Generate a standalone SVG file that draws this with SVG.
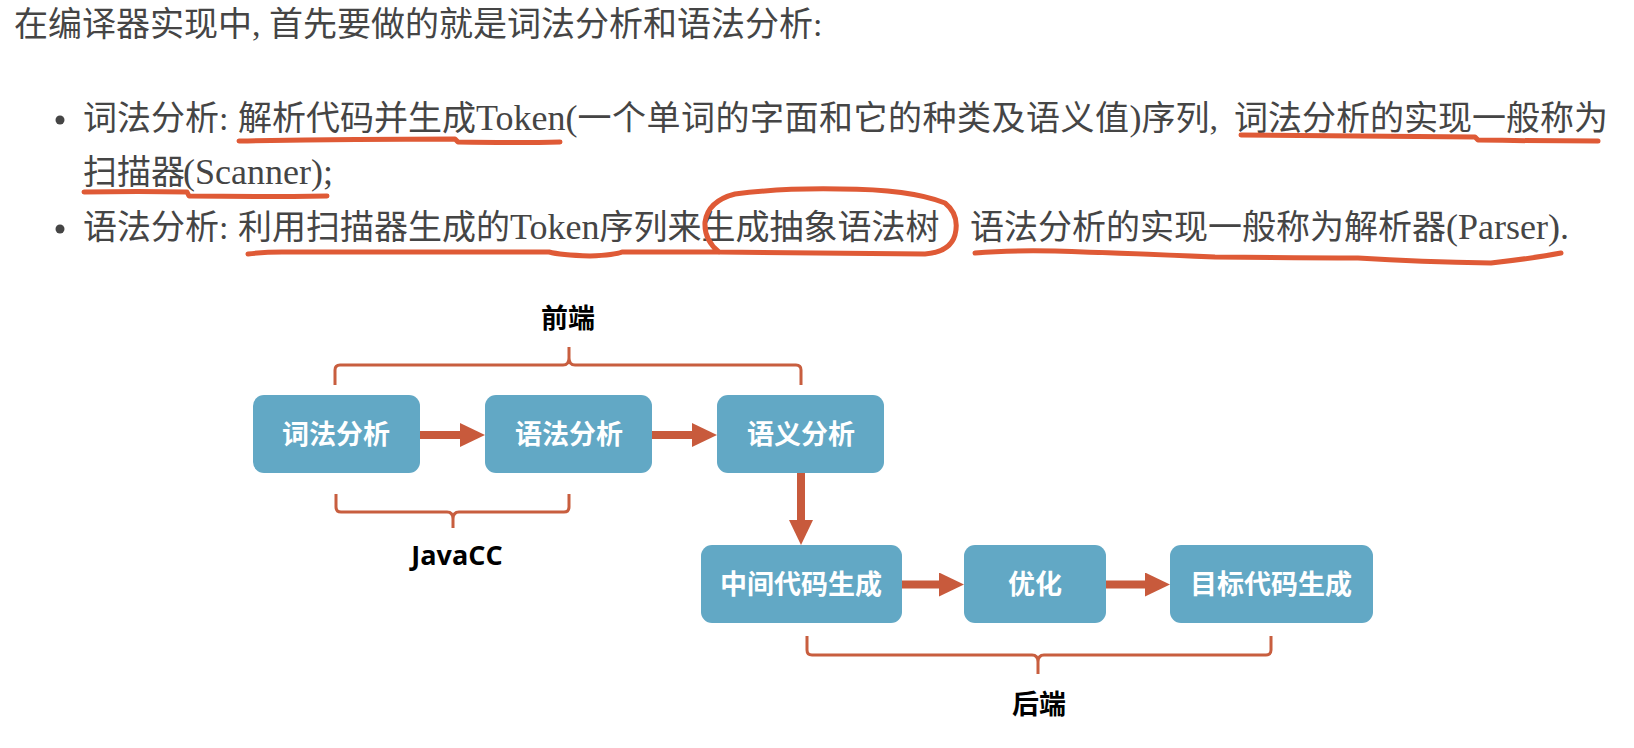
<svg xmlns="http://www.w3.org/2000/svg" width="1634" height="748" viewBox="0 0 1634 748">
<defs>
<style>
.t{font-family:"Liberation Serif","Noto Sans CJK SC",serif;font-size:34px;fill:#454545}
.l{font-size:36px}
.box{fill:#62a8c5}
.bt{font-family:"Noto Sans CJK SC",sans-serif;font-size:27px;font-weight:700;fill:#fff;text-anchor:middle}
.lbl{font-family:"Noto Sans CJK SC",sans-serif;font-size:27px;font-weight:700;fill:#000;text-anchor:middle}
.lbl2{font-family:"Open Sans",sans-serif;font-size:27px;font-weight:700;fill:#000;text-anchor:middle}
.br{fill:none;stroke:#c85e3f;stroke-width:3}
.ar{stroke:#c85a3c;stroke-width:8;fill:none}
.ul{fill:none;stroke:#df5a36;stroke-width:5;stroke-linecap:round;stroke-linejoin:round}
</style>
<marker id="ah" markerUnits="userSpaceOnUse" markerWidth="26" markerHeight="26" refX="0" refY="12" orient="auto">
<path d="M0,0 L25,12 L0,24 Z" fill="#c85a3c"/>
</marker>
</defs>
<rect width="1634" height="748" fill="#fff"/>
<g id="text">
<text class="t" x="14" y="36">在编译器实现中, 首先要做的就是词法分析和语法分析:</text>
<circle cx="60" cy="120" r="4.5" fill="#454545"/>
<text class="t" y="130"><tspan x="83">词法分析: </tspan><tspan x="238">解析代码并生成</tspan><tspan class="l">Token(</tspan><tspan letter-spacing="0.5">一个单词的字面和它的种类及语义值</tspan><tspan class="l">)</tspan><tspan>序列, </tspan><tspan x="1234">词法分析的实现一般称为</tspan></text>
<text class="t" y="184"><tspan x="83">扫描器</tspan><tspan class="l" x="183">(Scanner);</tspan></text>
<circle cx="60" cy="229" r="4.5" fill="#454545"/>
<text class="t" y="239"><tspan x="83">语法分析: </tspan><tspan x="238">利用扫描器生成的</tspan><tspan class="l">Token</tspan><tspan>序列来生成抽象语法树</tspan><tspan x="970">语法分析的实现一般称为解析器</tspan><tspan class="l">(Parser).</tspan></text>
</g>
<g id="annotations">
<path class="ul" d="M239,141 Q350,139 455,139 L458,142 Q520,143 560,142"/>
<path class="ul" d="M84,192 Q140,191 187,192 L189,196 Q260,197 327,196"/>
<path class="ul" d="M248,254 Q265,252 282,252 L549,252 Q560,255 590,256 Q615,255 622,252 L720,252 L925,254 Q950,252 955,235 Q960,215 945,203 Q910,189 840,189 Q780,188 735,194 Q708,201 705,222 Q704,240 719,252"/>
<path class="ul" d="M1241,135 Q1350,136 1475,137 L1478,140 Q1540,141 1598,141"/>
<path class="ul" d="M975,253 Q1010,250 1055,251 Q1120,253 1215,257 Q1300,258 1358,258 Q1420,262 1491,263 Q1535,258 1561,253"/>
</g>
<g id="n1"><rect class="box" x="253" y="395" width="167" height="78" rx="11"/><text class="bt" x="336" y="444">词法分析</text></g>
<g id="n2"><rect class="box" x="485" y="395" width="167" height="78" rx="11"/><text class="bt" x="569" y="444">语法分析</text></g>
<g id="n3"><rect class="box" x="717" y="395" width="167" height="78" rx="11"/><text class="bt" x="801" y="444">语义分析</text></g>
<g id="n4"><rect class="box" x="701" y="545" width="201" height="78" rx="11"/><text class="bt" x="801" y="594">中间代码生成</text></g>
<g id="n5"><rect class="box" x="964" y="545" width="142" height="78" rx="11"/><text class="bt" x="1035" y="594">优化</text></g>
<g id="n6"><rect class="box" x="1170" y="545" width="203" height="78" rx="11"/><text class="bt" x="1271" y="594">目标代码生成</text></g>
<g id="connectors">
<line class="ar" x1="420" y1="435" x2="460" y2="435" marker-end="url(#ah)"/>
<line class="ar" x1="652" y1="435" x2="692" y2="435" marker-end="url(#ah)"/>
<line class="ar" x1="801" y1="473" x2="801" y2="520" stroke-width="9" marker-end="url(#ah)"/>
<line class="ar" x1="902" y1="584.5" x2="939" y2="584.5" marker-end="url(#ah)"/>
<line class="ar" x1="1106" y1="584.5" x2="1145" y2="584.5" marker-end="url(#ah)"/>
</g>
<g id="braces">
<path class="br" d="M335,385 V370 Q335,365 340,365 H563 Q569,365 569,358 V347 V358 Q569,365 575,365 H796 Q801,365 801,370 V385"/>
<path class="br" d="M336,494 V507 Q336,512 341,512 H447 Q453,512 453,519 V528 V519 Q453,512 459,512 H564 Q569,512 569,507 V494"/>
<path class="br" d="M807,636 V650 Q807,655 812,655 H1032 Q1038,655 1038,662 V674 V662 Q1038,655 1044,655 H1266 Q1271,655 1271,650 V636"/>
</g>
<g id="labels">
<text class="lbl" x="568" y="328">前端</text>
<text class="lbl2" x="457" y="565">JavaCC</text>
<text class="lbl" x="1039" y="714">后端</text>
</g>
</svg>
